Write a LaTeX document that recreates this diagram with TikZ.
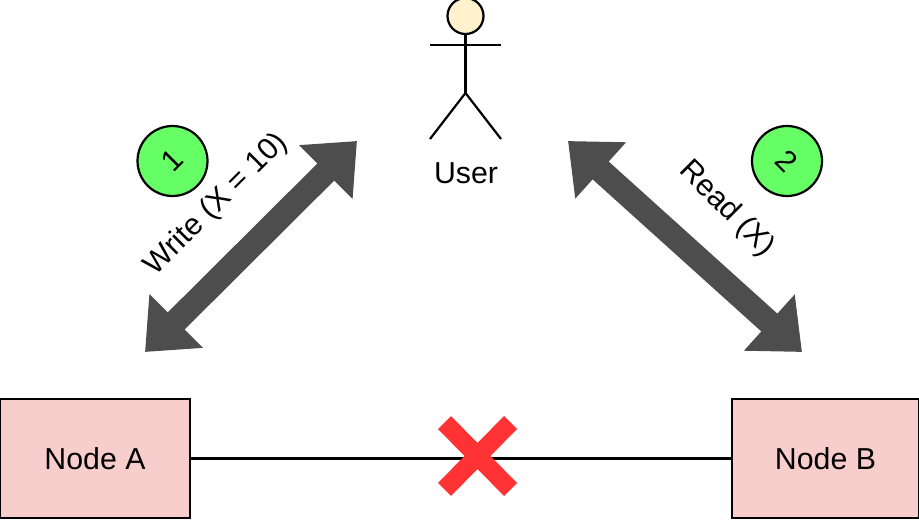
\documentclass[tikz,border=0pt]{standalone}
\usepackage{fontspec}
\setmainfont{Liberation Sans}
\usetikzlibrary{arrows.meta, positioning}
\definecolor{nodepink}{HTML}{F8CECC}
\definecolor{stepgreen}{HTML}{66FF66}
\definecolor{headcream}{HTML}{FFF2CC}
\definecolor{arrowgrey}{HTML}{4D4D4D}
\definecolor{crossred}{HTML}{FF3333}

\begin{document}
\begin{tikzpicture}[
    x=1pt, y=-1pt,
    line width=2.2pt,
    server/.style={draw=black, fill=nodepink, minimum height=119pt, inner sep=0pt, font=\fontsize{30.3}{36}\selectfont},
    badge/.style={draw=black, fill=stepgreen, circle, minimum size=70pt, inner sep=0pt, font=\fontsize{30}{36}\selectfont},
    label/.style={inner sep=0pt, font=\fontsize{30.3}{36}\selectfont},
    bigarrow/.style={draw=arrowgrey, line width=24pt, {Triangle[length=44pt, width=73pt]}-{Triangle[length=44pt, width=73pt]}},
]
    \useasboundingbox (0, 0) rectangle (919, 524);

    % Nodes
    \node[server, minimum width=190pt] (nodea) at (95, 458.5) {\raisebox{0.7pt}{Node A}};
    \node[server, minimum width=187pt] (nodeb) at (825.5, 458.5) {\raisebox{0.7pt}{Node B}};
    \draw (nodea) -- (nodeb);

    % Cross on the link
    \fill[crossred] (451, 416) -- (477.5, 443) -- (504, 416) -- (517, 429) -- (490.5, 456) -- (517, 483)
        -- (504, 496) -- (477.5, 469) -- (451, 496) -- (438, 483) -- (464.5, 456) -- (438, 429) -- cycle;

    % User
    \node[draw=black, fill=headcream, circle, minimum size=36pt, inner sep=0pt] (head) at (465.5, 16) {};
    \coordinate (hip) at (465.5, 93);
    \draw (head.south) -- (hip);
    \draw (430, 45) -- (501, 45);
    \draw (430, 139) -- (hip) -- (501, 139);
    \node[label] (user) at (466, 173) {User};

    % Arrows
    \coordinate (lefttop) at (357, 141);
    \coordinate (leftbot) at (145, 352);
    \coordinate (righttop) at (568, 141);
    \coordinate (rightbot) at (802, 352);
    \draw[bigarrow] (leftbot) -- (lefttop);
    \draw[bigarrow] (righttop) -- (rightbot);

    % Step labels
    \node[badge] (one) at (172.5, 161) {\raisebox{2pt}{\rotatebox{45}{1}}};
    \node[badge] (two) at (787, 161) {\rotatebox{-45}{2}};
    \node[label, rotate=45] (write) at (216.5, 204.5) {Write (X = 10)};
    \node[label, rotate=-45] (read) at (726.5, 209) {Read (X)};
\end{tikzpicture}
\end{document}
